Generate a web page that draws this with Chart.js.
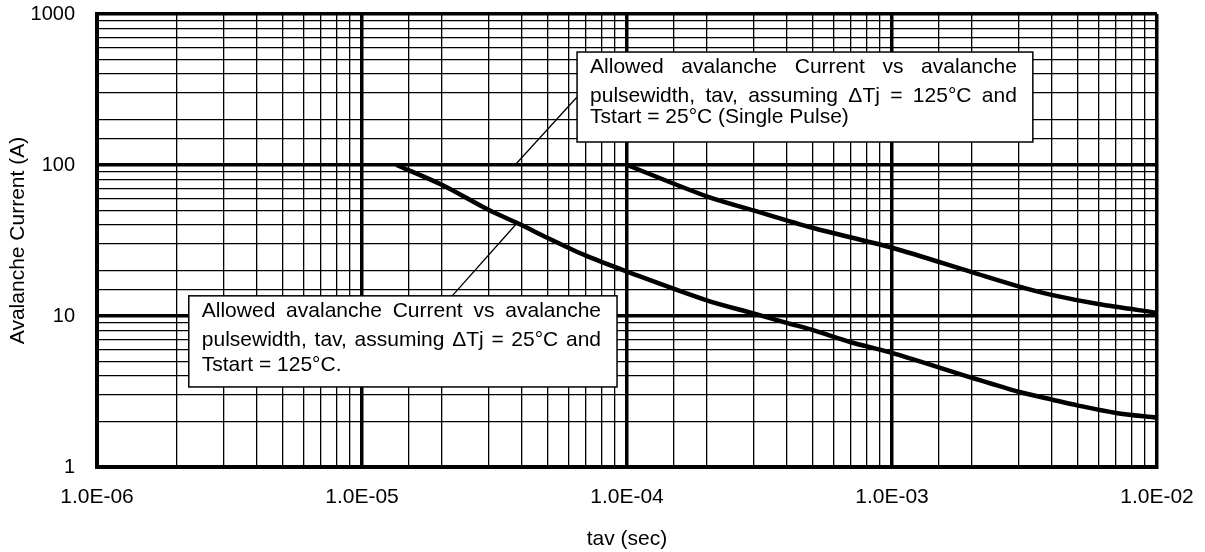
<!DOCTYPE html>
<html lang="en">
<head>
<meta charset="UTF-8">
<title>Allowed Avalanche Current vs Pulsewidth</title>
<style>
    body {
        margin: 0;
        padding: 0;
        background-color: #fff;
    }
    .chart-box {
        width: 1205px;
        height: 552px;
    }
</style>
<script src="https://cdn.jsdelivr.net/npm/chart.js"></script>
</head>
<body>

<div class="chart-box">
    <canvas id="avChart"></canvas>
</div>

<script>
    // Upper curve: dTj = 125°C, Tstart = 25°C (single pulse)
    const tavSingle = [1e-4, 2e-4, 3e-4, 5e-4, 1e-3, 2e-3, 3e-3, 4e-3, 6e-3, 1e-2];
    const iavSingle = [100, 62, 50, 38.4, 28.3, 19.5, 15.7, 13.8, 12, 10.5];

    // Lower curve: dTj = 25°C, Tstart = 125°C
    const tavHot = [1.35e-5, 2e-5, 3e-5, 4e-5, 5e-5, 7e-5, 1e-4, 2e-4, 3e-4, 4e-4, 5e-4, 7e-4,
                    1e-3, 2e-3, 3e-3, 4e-3, 5e-3, 7e-3, 1e-2];
    const iavHot = [100, 74, 50.5, 40, 33, 25.1, 19.7, 12.7, 10.4, 9.0, 8.1, 6.7,
                    5.7, 3.9, 3.15, 2.8, 2.56, 2.28, 2.12];

    const xRange = [1e-6, 1e-2];
    const yRange = [1, 1000];

    // text boxes and leader lines, placed in data units
    const notes = [
        {
            x0: 6.48e-5, x1: 3.40e-3, yTop: 560, yBottom: 142,
            baselines: [21, 50, 71],
            lines: ['Allowed avalanche Current vs avalanche',
                    'pulsewidth, tav, assuming \u0394Tj = 125\u00b0C and',
                    'Tstart = 25\u00b0C (Single Pulse)']
        },
        {
            x0: 2.22e-6, x1: 9.17e-5, yTop: 13.6, yBottom: 3.39,
            baselines: [21, 50, 75],
            lines: ['Allowed avalanche Current vs avalanche',
                    'pulsewidth, tav, assuming \u0394Tj = 25\u00b0C and',
                    'Tstart = 125\u00b0C.']
        }
    ];
    const leaders = [
        { from: [6.48e-5, 282], to: [3.78e-5, 100] },
        { from: [2.19e-5, 13.6], to: [3.85e-5, 41.3] }
    ];

    const FONT = '"Liberation Sans", Arial, sans-serif';

    function isDecade(v) {
        const e = Math.log10(v);
        return Math.abs(e - Math.round(e)) < 1e-6;
    }

    function sciLabel(v) {
        const e = Math.round(Math.log10(v));
        return '1.0E' + (e < 0 ? '-' : '+') + String(Math.abs(e)).padStart(2, '0');
    }

    function toPoints(xs, ys) {
        return xs.map((x, i) => ({ x: x, y: ys[i] }));
    }

    // draws a justified line of text between left and left + width
    function justifyText(ctx, text, left, baseY, width) {
        const words = text.split(' ');
        const widths = words.map(w => ctx.measureText(w).width);
        const total = widths.reduce((a, b) => a + b, 0);
        const gap = (width - total) / (words.length - 1);
        let x = left;
        words.forEach((w, i) => {
            ctx.fillText(w, x, baseY);
            x += widths[i] + gap;
        });
    }

    const notePlugin = {
        id: 'notes',
        afterDatasetsDraw(chart) {
            const { ctx } = chart;
            const xs = chart.scales.x, ys = chart.scales.y;
            ctx.save();
            ctx.strokeStyle = '#000';
            ctx.lineWidth = 1.3;
            leaders.forEach(l => {
                ctx.beginPath();
                ctx.moveTo(xs.getPixelForValue(l.from[0]), ys.getPixelForValue(l.from[1]));
                ctx.lineTo(xs.getPixelForValue(l.to[0]), ys.getPixelForValue(l.to[1]));
                ctx.stroke();
            });

            notes.forEach(n => {
                const left = xs.getPixelForValue(n.x0);
                const right = xs.getPixelForValue(n.x1);
                const top = ys.getPixelForValue(n.yTop);
                const bottom = ys.getPixelForValue(n.yBottom);
                ctx.fillStyle = '#fff';
                ctx.fillRect(left, top, right - left, bottom - top);
                ctx.lineWidth = 1.5;
                ctx.strokeRect(left, top, right - left, bottom - top);

                ctx.font = '21px ' + FONT;
                ctx.fillStyle = '#000';
                ctx.textBaseline = 'alphabetic';
                ctx.textAlign = 'left';
                const textLeft = left + 13;
                const textWidth = right - left - 29;
                n.lines.forEach((line, i) => {
                    const y = top + n.baselines[i];
                    if (i < n.lines.length - 1) {
                        justifyText(ctx, line, textLeft, y, textWidth);
                    } else {
                        ctx.fillText(line, textLeft, y);
                    }
                });
            });
            ctx.restore();
        }
    };

    const gridOpts = {
        color: '#000',
        lineWidth: c => (c.tick && isDecade(c.tick.value)) ? 3.5 : 1.3,
        drawTicks: false
    };

    new Chart(document.getElementById('avChart'), {
        type: 'line',
        data: {
            datasets: [
                {
                    label: 'dTj = 125C, Tstart = 25C',
                    data: toPoints(tavSingle, iavSingle),
                    borderColor: '#000',
                    borderWidth: 4.5,
                    pointRadius: 0,
                    tension: 0.3,
                    fill: false
                },
                {
                    label: 'dTj = 25C, Tstart = 125C',
                    data: toPoints(tavHot, iavHot),
                    borderColor: '#000',
                    borderWidth: 4.5,
                    pointRadius: 0,
                    tension: 0.3,
                    fill: false
                }
            ]
        },
        options: {
            responsive: true,
            maintainAspectRatio: false,
            animation: false,
            layout: { padding: { top: 14, right: 48, bottom: 0, left: 0 } },
            plugins: {
                legend: { display: false },
                tooltip: { enabled: false }
            },
            scales: {
                x: {
                    type: 'logarithmic',
                    min: xRange[0],
                    max: xRange[1],
                    grid: gridOpts,
                    border: { display: true, color: '#000', width: 4 },
                    ticks: {
                        autoSkip: false,
                        maxRotation: 0,
                        padding: 18,
                        color: '#000',
                        font: { family: FONT, size: 21 },
                        callback: v => isDecade(v) ? sciLabel(v) : ''
                    },
                    title: {
                        display: true,
                        text: 'tav (sec)',
                        color: '#000',
                        font: { family: FONT, size: 21 },
                        padding: { top: 0, bottom: 0 }
                    },
                    afterFit: s => {
                        s.height = 85;
                        s.paddingLeft = 0;
                        s.paddingRight = 0;
                    }
                },
                y: {
                    type: 'logarithmic',
                    min: yRange[0],
                    max: yRange[1],
                    grid: gridOpts,
                    border: { display: true, color: '#000', width: 4 },
                    ticks: {
                        autoSkip: false,
                        padding: 22,
                        color: '#000',
                        font: { family: FONT, size: 20 },
                        callback: v => isDecade(v) ? String(Math.round(v)) : ''
                    },
                    title: {
                        display: true,
                        text: 'Avalanche Current (A)',
                        color: '#000',
                        font: { family: FONT, size: 21 },
                        padding: { top: 6, bottom: 0 }
                    },
                    afterFit: s => {
                        s.width = 97;
                        s.paddingTop = 0;
                        s.paddingBottom = 0;
                    }
                }
            }
        },
        plugins: [notePlugin]
    });
</script>

</body>
</html>
